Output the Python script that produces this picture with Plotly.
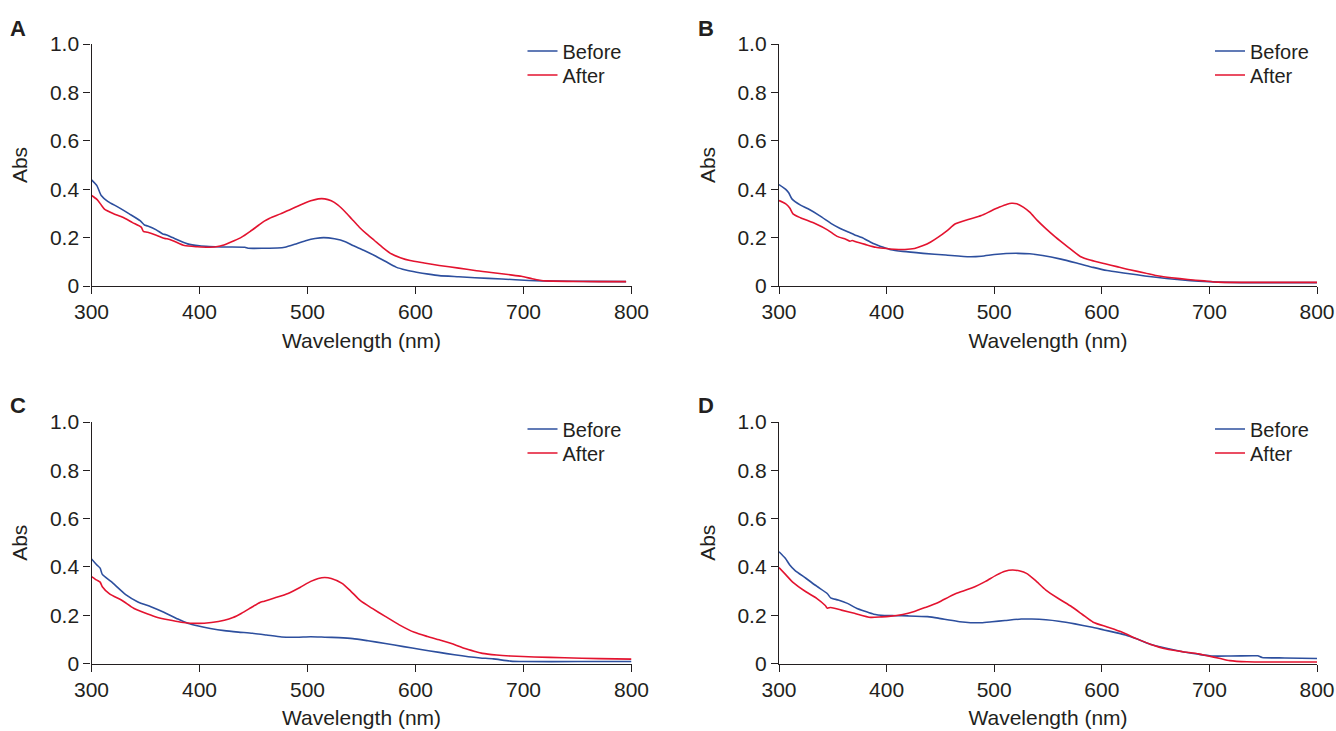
import plotly.graph_objects as go

# ---------------- data ----------------
panel_labels = ["A", "B", "C", "D"]
series_names = ["Before", "After"]
x_ticks = [300, 400, 500, 600, 700, 800]
y_ticks = [0, 0.2, 0.4, 0.6, 0.8, 1.0]
y_tick_text = ["0", "0.2", "0.4", "0.6", "0.8", "1.0"]

wl_A_before = [300, 305, 309, 315, 325, 335, 345, 349, 352, 360, 366, 369, 375, 389, 400, 409, 420, 442, 445, 460, 472, 479, 490, 499, 507, 515, 525, 535, 542, 552, 562, 572, 582, 591, 601, 612, 622, 640, 655, 680, 705, 730, 760, 795]
abs_A_before = [0.439, 0.415, 0.374, 0.350, 0.325, 0.298, 0.270, 0.252, 0.248, 0.232, 0.215, 0.212, 0.200, 0.174, 0.166, 0.163, 0.161, 0.160, 0.156, 0.156, 0.157, 0.160, 0.175, 0.188, 0.196, 0.200, 0.195, 0.183, 0.167, 0.148, 0.126, 0.102, 0.078, 0.066, 0.057, 0.049, 0.043, 0.038, 0.034, 0.029, 0.023, 0.020, 0.019, 0.018]

wl_A_after = [300, 305, 309, 312, 320, 329, 338, 346, 348, 352, 360, 367, 370, 376, 386, 398, 409, 418, 425, 432, 439, 447, 455, 460, 465, 475, 482, 495, 503, 510, 516, 522, 528, 535, 541, 548, 555, 562, 570, 578, 586, 595, 608, 622, 640, 655, 672, 688, 698, 708, 715, 721, 740, 770, 795]
abs_A_after = [0.374, 0.358, 0.335, 0.318, 0.300, 0.284, 0.262, 0.243, 0.226, 0.222, 0.210, 0.197, 0.195, 0.186, 0.167, 0.162, 0.160, 0.164, 0.174, 0.187, 0.202, 0.226, 0.252, 0.268, 0.280, 0.298, 0.312, 0.338, 0.352, 0.360, 0.360, 0.352, 0.335, 0.306, 0.277, 0.243, 0.214, 0.188, 0.158, 0.132, 0.117, 0.105, 0.095, 0.085, 0.074, 0.064, 0.055, 0.046, 0.040, 0.030, 0.024, 0.021, 0.019, 0.018, 0.018]

wl_B_before = [300, 306, 309, 312, 320, 327, 338, 349, 356, 365, 370, 377, 387, 397, 404, 415, 434, 455, 477, 488, 500, 511, 522, 533, 545, 562, 579, 592, 605, 622, 642, 660, 675, 690, 708, 730, 770, 800]
abs_B_before = [0.419, 0.400, 0.385, 0.360, 0.334, 0.319, 0.290, 0.257, 0.240, 0.222, 0.212, 0.200, 0.177, 0.160, 0.150, 0.143, 0.135, 0.128, 0.121, 0.123, 0.130, 0.134, 0.135, 0.133, 0.126, 0.111, 0.092, 0.077, 0.064, 0.053, 0.040, 0.031, 0.025, 0.020, 0.016, 0.014, 0.014, 0.014]

wl_B_after = [300, 306, 310, 313, 320, 334, 345, 354, 362, 366, 368, 372, 380, 390, 397, 407, 417, 426, 434, 441, 448, 456, 464, 475, 488, 497, 505, 512, 516, 521, 527, 533, 540, 548, 557, 568, 580, 590, 603, 614, 626, 640, 653, 665, 680, 695, 708, 730, 770, 800]
abs_B_after = [0.353, 0.340, 0.322, 0.298, 0.282, 0.257, 0.232, 0.205, 0.193, 0.185, 0.188, 0.182, 0.172, 0.160, 0.156, 0.152, 0.151, 0.155, 0.167, 0.182, 0.202, 0.228, 0.257, 0.274, 0.291, 0.310, 0.326, 0.338, 0.342, 0.340, 0.326, 0.305, 0.271, 0.237, 0.202, 0.163, 0.122, 0.106, 0.092, 0.080, 0.067, 0.054, 0.041, 0.034, 0.027, 0.021, 0.016, 0.015, 0.015, 0.015]

wl_C_before = [300, 305, 308, 310, 318, 332, 343, 355, 367, 380, 389, 399, 410, 423, 436, 449, 462, 476, 490, 503, 516, 529, 542, 556, 572, 589, 605, 622, 636, 649, 660, 672, 688, 700, 750, 800]
abs_C_before = [0.433, 0.408, 0.395, 0.369, 0.340, 0.284, 0.255, 0.235, 0.212, 0.184, 0.167, 0.155, 0.145, 0.136, 0.130, 0.125, 0.118, 0.110, 0.109, 0.111, 0.109, 0.107, 0.103, 0.094, 0.083, 0.070, 0.058, 0.046, 0.036, 0.028, 0.023, 0.019, 0.010, 0.008, 0.008, 0.008]

wl_C_after = [300, 305, 308, 310, 317, 328, 339, 349, 359, 371, 383, 399, 411, 423, 431, 439, 448, 456, 460, 470, 482, 493, 503, 510, 516, 522, 532, 540, 549, 560, 572, 585, 599, 611, 622, 634, 645, 655, 662, 675, 688, 710, 738, 770, 800]
abs_C_after = [0.360, 0.345, 0.337, 0.318, 0.287, 0.262, 0.229, 0.210, 0.194, 0.181, 0.171, 0.166, 0.170, 0.179, 0.190, 0.208, 0.232, 0.253, 0.258, 0.272, 0.290, 0.315, 0.340, 0.352, 0.356, 0.352, 0.332, 0.300, 0.260, 0.228, 0.195, 0.160, 0.129, 0.112, 0.098, 0.082, 0.063, 0.050, 0.042, 0.035, 0.031, 0.027, 0.024, 0.020, 0.018]

wl_D_before = [300, 306, 310, 315, 325, 335, 345, 348, 355, 363, 372, 380, 388, 398, 408, 420, 438, 448, 458, 468, 478, 488, 498, 510, 525, 535, 548, 560, 575, 590, 602, 612, 622, 633, 645, 660, 675, 690, 702, 720, 740, 745, 749, 770, 800]
abs_D_before = [0.463, 0.435, 0.408, 0.385, 0.353, 0.320, 0.289, 0.272, 0.263, 0.250, 0.229, 0.216, 0.204, 0.199, 0.198, 0.197, 0.194, 0.188, 0.180, 0.173, 0.169, 0.169, 0.173, 0.178, 0.184, 0.184, 0.181, 0.175, 0.164, 0.151, 0.139, 0.129, 0.118, 0.101, 0.080, 0.063, 0.049, 0.038, 0.031, 0.031, 0.032, 0.032, 0.025, 0.023, 0.021]

wl_D_after = [300, 306, 313, 325, 335, 343, 345, 348, 358, 370, 385, 395, 402, 415, 425, 436, 448, 458, 465, 475, 482, 492, 502, 510, 517, 524, 530, 538, 548, 560, 572, 582, 592, 605, 619, 632, 645, 660, 675, 690, 699, 709, 719, 735, 759, 800]
abs_D_after = [0.397, 0.369, 0.336, 0.297, 0.270, 0.240, 0.229, 0.232, 0.221, 0.208, 0.191, 0.193, 0.195, 0.203, 0.214, 0.232, 0.253, 0.276, 0.291, 0.306, 0.318, 0.340, 0.366, 0.382, 0.387, 0.383, 0.373, 0.345, 0.304, 0.268, 0.235, 0.203, 0.171, 0.151, 0.129, 0.103, 0.080, 0.060, 0.049, 0.040, 0.031, 0.022, 0.012, 0.007, 0.006, 0.006]

panel_data = {
    "A": [(wl_A_before, abs_A_before), (wl_A_after, abs_A_after)],
    "B": [(wl_B_before, abs_B_before), (wl_B_after, abs_B_after)],
    "C": [(wl_C_before, abs_C_before), (wl_C_after, abs_C_after)],
    "D": [(wl_D_before, abs_D_before), (wl_D_after, abs_D_after)],
}

# ---------------- styling / layout ----------------
W, H = 1336, 731
FONT = "Liberation Sans, Arial, sans-serif"
TXT = "#231f20"
colors = ["#2d4f9e", "#e3132f"]
FS = 21

# pixel boxes of the four plot areas: (left, right, top, bottom)
boxes = {
    "A": (91.5, 631.5, 44, 286),
    "B": (779, 1317, 44, 286),
    "C": (91.5, 631.5, 422, 663.5),
    "D": (779, 1317, 422, 663.5),
}
letter_pos = {"A": (18, 28), "B": (706, 28), "C": (18, 405), "D": (706, 405)}
legend_row_offset = [7, 31]   # row centres below plot-area top (px)
legend_x_offset = 431         # legend left edge from plot-area left (px)


def px(v):
    return v / W


def py(v):
    return 1 - v / H


fig = go.Figure()
layout = dict(
    template="none",
    width=W, height=H,
    margin=dict(l=0, r=0, t=0, b=0, autoexpand=False),
    paper_bgcolor="white", plot_bgcolor="white",
    font=dict(family=FONT, color=TXT, size=FS),
    annotations=[],
    showlegend=True,
)

leg_idx = 0
for i, p in enumerate(panel_labels):
    n = "" if i == 0 else str(i + 1)
    xa, ya = "x" + n, "y" + n
    l, r, t, b = boxes[p]
    for k, (xs, ys) in enumerate(panel_data[p]):
        leg_idx += 1
        leg = "legend" if leg_idx == 1 else "legend" + str(leg_idx)
        fig.add_trace(go.Scatter(
            x=xs, y=ys, mode="lines", name=series_names[k],
            line=dict(color=colors[k], width=1.6, shape="spline", smoothing=0.6),
            xaxis=xa, yaxis=ya, legend=leg, showlegend=True,
        ))
        layout[leg] = dict(
            x=px(l + legend_x_offset), y=py(t + legend_row_offset[k]),
            xanchor="left", yanchor="middle",
            bgcolor="rgba(0,0,0,0)", borderwidth=0,
            font=dict(family=FONT, size=20, color=TXT),
        )
    axis_common = dict(
        showgrid=False, zeroline=False, showline=True, linecolor=TXT, linewidth=1.4,
        ticks="outside", ticklen=7, tickwidth=1.3, tickcolor=TXT, automargin=False,
        tickfont=dict(family=FONT, size=FS, color=TXT),
    )
    layout["xaxis" + n] = dict(
        axis_common, domain=[px(l), px(r)], range=[300, 800], anchor=ya,
        tickvals=x_ticks,
        title=dict(text="Wavelength (nm)", font=dict(family=FONT, size=FS, color=TXT), standoff=10),
    )
    layout["yaxis" + n] = dict(
        axis_common, domain=[py(b), py(t)], range=[0, 1.0], anchor=xa,
        tickvals=y_ticks, ticktext=y_tick_text,
        title=dict(text="Abs", font=dict(family=FONT, size=FS, color=TXT), standoff=16),
    )
    lx, ly = letter_pos[p]
    layout["annotations"].append(dict(
        text="<b>" + p + "</b>", x=px(lx), y=py(ly), xref="paper", yref="paper",
        xanchor="center", yanchor="middle", showarrow=False,
        font=dict(family="Liberation Sans Narrow, Liberation Sans, Arial", size=22, color=TXT),
    ))

fig.update_layout(**layout)
# remove the page's default body margin so the figure fills the window exactly
fig.write_html(
    "out.html",
    config={"displayModeBar": False},
    post_script="document.body.style.margin='0px';document.body.style.overflow='hidden';",
)
